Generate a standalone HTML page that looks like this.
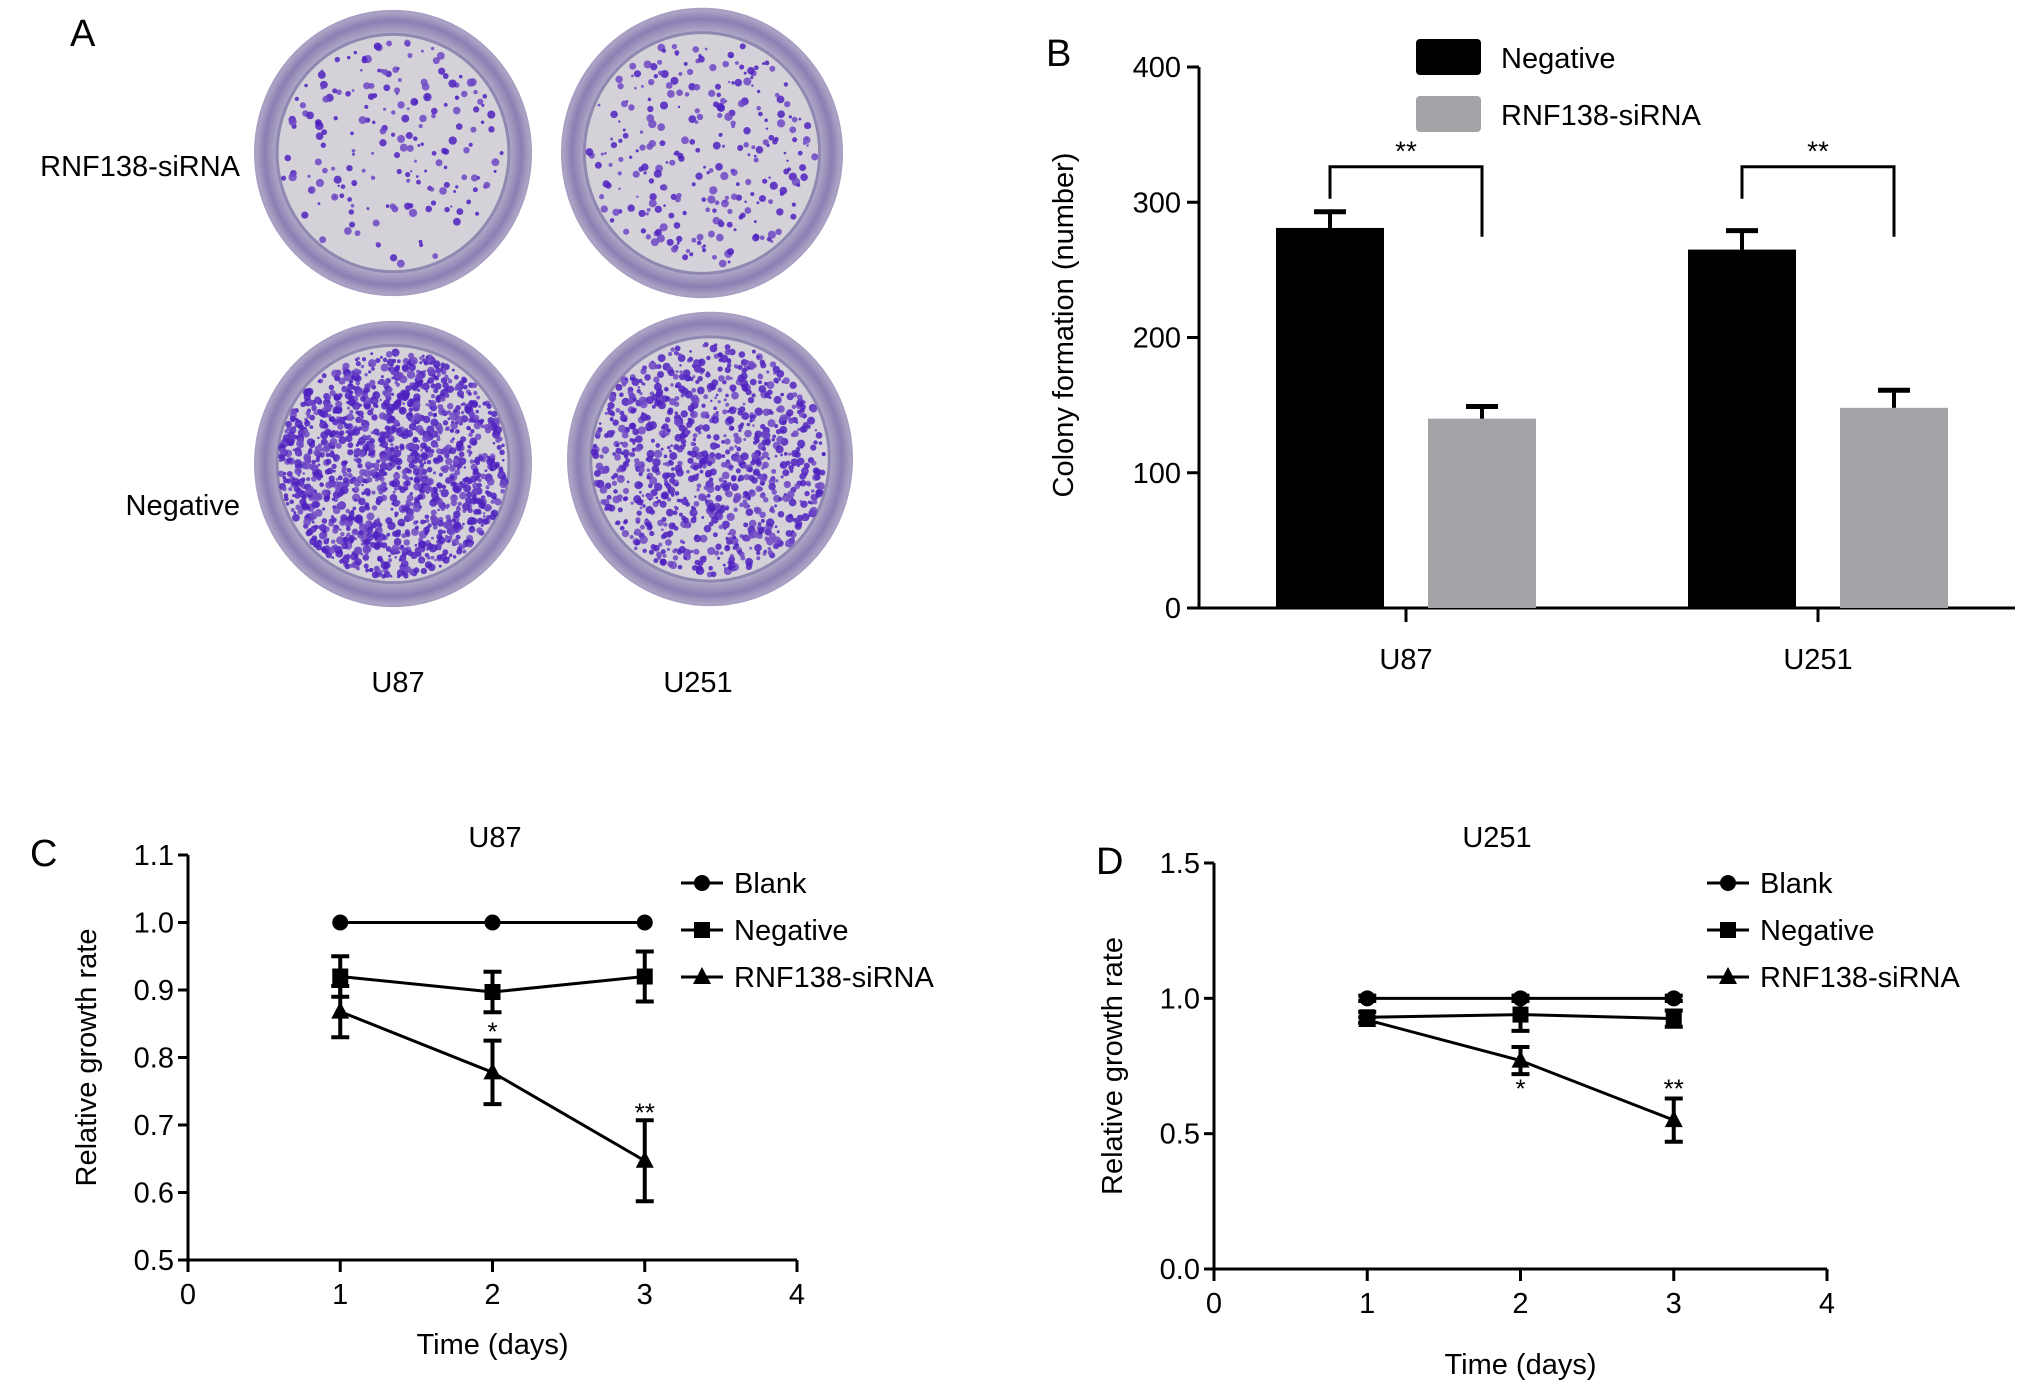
<!DOCTYPE html>
<html><head><meta charset="utf-8">
<style>
html,body{margin:0;padding:0;background:#fff;}
svg{display:block;font-family:"Liberation Sans",Arial,sans-serif;}
</style></head>
<body>
<svg id="fig" width="2032" height="1396" viewBox="0 0 2032 1396" xmlns="http://www.w3.org/2000/svg">
<defs>
<radialGradient id="rimG" cx="50%" cy="50%" r="50%">
<stop offset="80%" stop-color="#c4bed2"/><stop offset="93%" stop-color="#8a7fb2"/><stop offset="100%" stop-color="#b2a9c8"/>
</radialGradient>
</defs>
<g id="panelA">
<text x="70" y="46" font-size="38">A</text>
<text x="240" y="176" font-size="29" text-anchor="end">RNF138-siRNA</text>
<text x="240" y="515" font-size="29" text-anchor="end">Negative</text>
<text x="398" y="692" font-size="29" text-anchor="middle">U87</text>
<text x="698" y="692" font-size="29" text-anchor="middle">U251</text>
</g>
<g id="panelB"></g>
<g id="panelC"></g>
<g id="panelD"></g>
</svg>
<script>
// ---- Panel B data ----
const barGroups = ["U87", "U251"];
const barSeries = ["Negative", "RNF138-siRNA"];
const negValues = [281, 265];
const negErrors = [12, 14];
const siValues = [140, 148];
const siErrors = [9, 13];
const barTicks = [0, 100, 200, 300, 400];

// ---- Panel C data (U87) ----
const daysC = [1, 2, 3];
const blankC = [1.0, 1.0, 1.0];
const blankCErr = [0, 0, 0];
const negC = [0.92, 0.897, 0.92];
const negCErr = [0.03, 0.03, 0.037];
const siC = [0.868, 0.778, 0.647];
const siCErr = [0.038, 0.047, 0.06];
const yTicksC = [0.5, 0.6, 0.7, 0.8, 0.9, 1.0, 1.1];
const xTicks = [0, 1, 2, 3, 4];

// ---- Panel D data (U251) ----
const daysD = [1, 2, 3];
const blankD = [1.0, 1.0, 1.0];
const blankDErr = [0.01, 0.01, 0.01];
const negD = [0.93, 0.94, 0.925];
const negDErr = [0.02, 0.06, 0.03];
const siD = [0.92, 0.77, 0.55];
const siDErr = [0.01, 0.05, 0.08];
const yTicksD = [0.0, 0.5, 1.0, 1.5];

const NS = "http://www.w3.org/2000/svg";
function mk(parent, tag, attrs, text) {
  const e = document.createElementNS(NS, tag);
  for (const k in attrs) e.setAttribute(k, attrs[k]);
  if (text !== undefined) e.textContent = text;
  parent.appendChild(e);
  return e;
}

// ---- Panel A dishes (decorative photo approximation) ----
(function () {
  const A = document.getElementById("panelA");
  const dishes = [
    {cx: 393, cy: 153, r: 138, dens: 200, name: "dish-u87-sirna"},
    {cx: 702, cy: 153, r: 140, dens: 280, name: "dish-u251-sirna"},
    {cx: 393, cy: 464, r: 138, dens: 1500, name: "dish-u87-negative"},
    {cx: 710, cy: 459, r: 142, dens: 1000, name: "dish-u251-negative"}
  ];
  let seed = 7;
  function rnd() { seed = (seed * 16807) % 2147483647; return seed / 2147483647; }
  dishes.forEach(d => {
    const g = mk(A, "g", {});
    
    
    mk(g, "ellipse", {cx: d.cx, cy: d.cy, rx: d.r, ry: d.r * 1.03, fill: "url(#rimG)", stroke: "#a79ec2", "stroke-width": 2});
    mk(g, "ellipse", {cx: d.cx, cy: d.cy, rx: d.r * 0.84, ry: d.r * 0.86, fill: "#d4d1d8", stroke: "#9088b0", "stroke-width": 3});
    const ri = d.r * 0.82;
    for (let i = 0; i < d.dens; i++) {
      const a = rnd() * Math.PI * 2, rr = Math.sqrt(rnd()) * ri;
      const s = 1.2 + rnd() * 3;
      mk(g, "circle", {cx: d.cx + rr * Math.cos(a), cy: d.cy + rr * Math.sin(a), r: s, fill: rnd() < 0.6 ? "#4f22c0" : "#6f48c6", opacity: 0.85});
    }
  });
})();

// ---- Panel B ----
(function () {
  const B = document.getElementById("panelB");
  const x0 = 1199, y0 = 608, yTop = 67, xEnd = 2015;
  const y = v => y0 - (v / 400) * (y0 - yTop);
  const groupCenter = [1406, 1818];
  const bw = 108, off = 76;
  mk(B, "text", {x: 1046, y: 66, "font-size": 38}, "B");
  const ax = mk(B, "g", {});
  
  
  mk(ax, "line", {x1: x0, y1: yTop, x2: x0, y2: y0, stroke: "#000", "stroke-width": 3});
  barTicks.forEach(t => {
    mk(ax, "line", {x1: x0 - 12, y1: y(t), x2: x0, y2: y(t), stroke: "#000", "stroke-width": 3});
    const tl = mk(ax, "text", {x: x0 - 18, y: y(t) + 10, "font-size": 29, "text-anchor": "end"}, t);
    
    
  });
  const yt = mk(B, "text", {x: 0, y: 0, "font-size": 29, "text-anchor": "middle", transform: "translate(1073,325) rotate(-90)"}, "Colony formation (number)");
  
  
  const xa = mk(B, "g", {});
  
  
  mk(xa, "line", {x1: x0 - 12, y1: y0, x2: xEnd, y2: y0, stroke: "#000", "stroke-width": 3});
  const allTop = Math.max(...negValues.map((v, i) => v + negErrors[i]), ...siValues.map((v, i) => v + siErrors[i]));
  const by = y(allTop) - 45;
  barGroups.forEach((gname, i) => {
    mk(xa, "line", {x1: groupCenter[i], y1: y0, x2: groupCenter[i], y2: y0 + 14, stroke: "#000", "stroke-width": 3});
    const gl = mk(xa, "text", {x: groupCenter[i], y: y0 + 61, "font-size": 29, "text-anchor": "middle"}, gname);
    
    
    const series = [[negValues, negErrors, "#000", -off], [siValues, siErrors, "#a3a3a8", off]];
    series.forEach((s, j) => {
      const cx = groupCenter[i] + s[3];
      const v = s[0][i], e = s[1][i];
      const bar = mk(B, "rect", {x: cx - bw / 2, y: y(v), width: bw, height: y0 - y(v), fill: s[2]});
      
      
      const eb = mk(B, "g", {});
      
      
      mk(eb, "line", {x1: cx, y1: y(v), x2: cx, y2: y(v + e), stroke: "#000", "stroke-width": 4});
      mk(eb, "line", {x1: cx - 16, y1: y(v + e), x2: cx + 16, y2: y(v + e), stroke: "#000", "stroke-width": 5});
    });
    const lx = groupCenter[i] - off, rx = groupCenter[i] + off;
    const br = mk(B, "g", {});
    
    
    mk(br, "polyline", {points: `${lx},${by + 32} ${lx},${by} ${rx},${by} ${rx},${by + 70}`, fill: "none", stroke: "#000", "stroke-width": 3});
    mk(br, "text", {x: groupCenter[i], y: by - 6, "font-size": 28, "text-anchor": "middle"}, "**");
  });
  const lg = mk(B, "g", {});
  
  
  [["#000", barSeries[0], 39], ["#a3a3a8", barSeries[1], 96]].forEach(l => {
    const le = mk(lg, "g", {});
    
    
    mk(le, "rect", {x: 1416, y: l[2], width: 65, height: 36, rx: 4, fill: l[0]});
    mk(le, "text", {x: 1501, y: l[2] + 29, "font-size": 29}, l[1]);
  });
})();

// ---- Line charts ----
function lineChart(G, cfg) {
  const {x0, y0, yTop, xRight, ymin, ymax, yTicks, title, letter, days, series, stars, legendX} = cfg;
  const X = v => x0 + (v / 4) * (xRight - x0);
  const Y = v => y0 - (v - ymin) / (ymax - ymin) * (y0 - yTop);
  mk(G, "text", {x: letter[0], y: letter[1], "font-size": 38}, letter[2]);
  const tt = mk(G, "text", {x: cfg.titleX, y: 847, "font-size": 29, "text-anchor": "middle"}, title);
  
  
  const ya = mk(G, "g", {});
  
  
  mk(ya, "line", {x1: x0, y1: yTop, x2: x0, y2: y0, stroke: "#000", "stroke-width": 3});
  yTicks.forEach(t => {
    mk(ya, "line", {x1: x0 - 10, y1: Y(t), x2: x0, y2: Y(t), stroke: "#000", "stroke-width": 3});
    const tl = mk(ya, "text", {x: x0 - 14, y: Y(t) + 10, "font-size": 29, "text-anchor": "end"}, t.toFixed(1));
    
    
  });
  const yt = mk(G, "text", {x: 0, y: 0, "font-size": 29, "text-anchor": "middle", transform: `translate(${cfg.yTitleX},${(y0 + yTop) / 2}) rotate(-90)`}, "Relative growth rate");
  
  
  const xa = mk(G, "g", {});
  
  
  mk(xa, "line", {x1: x0, y1: y0, x2: xRight, y2: y0, stroke: "#000", "stroke-width": 3});
  xTicks.forEach(t => {
    mk(xa, "line", {x1: X(t), y1: y0, x2: X(t), y2: y0 + 12, stroke: "#000", "stroke-width": 3});
    const tl = mk(xa, "text", {x: X(t), y: y0 + 44, "font-size": 29, "text-anchor": "middle"}, t);
    
    
  });
  const xt = mk(G, "text", {x: (x0 + xRight) / 2, y: cfg.xTitleY, "font-size": 29, "text-anchor": "middle"}, "Time (days)");
  
  
  function marker(g, shape, cx, cy) {
    if (shape === "circle") mk(g, "circle", {cx, cy, r: 8, fill: "#000"});
    else if (shape === "square") mk(g, "rect", {x: cx - 8, y: cy - 8, width: 16, height: 16, fill: "#000"});
    else mk(g, "polygon", {points: `${cx},${cy - 10} ${cx - 9},${cy + 7} ${cx + 9},${cy + 7}`, fill: "#000"});
  }
  series.forEach(s => {
    const g = mk(G, "g", {});
    
    
    mk(g, "polyline", {points: days.map((d, i) => X(d) + "," + Y(s.v[i])).join(" "), fill: "none", stroke: "#000", "stroke-width": 3});
    days.forEach((d, i) => {
      const e = s.e[i];
      if (e > 0) {
        mk(g, "line", {x1: X(d), y1: Y(s.v[i] - e), x2: X(d), y2: Y(s.v[i] + e), stroke: "#000", "stroke-width": 4});
        mk(g, "line", {x1: X(d) - 9, y1: Y(s.v[i] - e), x2: X(d) + 9, y2: Y(s.v[i] - e), stroke: "#000", "stroke-width": 4});
        mk(g, "line", {x1: X(d) - 9, y1: Y(s.v[i] + e), x2: X(d) + 9, y2: Y(s.v[i] + e), stroke: "#000", "stroke-width": 4});
      }
      marker(g, s.shape, X(d), Y(s.v[i]));
    });
  });
  stars.forEach(st => {
    const t = mk(G, "text", {x: X(st.d), y: Y(st.y) + 10, "font-size": 26, "text-anchor": "middle"}, st.t);
    
    
  });
  const lg = mk(G, "g", {});
  
  
  series.forEach((s, i) => {
    const ly = 883 + i * 47;
    const le = mk(lg, "g", {});
    
    
    mk(le, "line", {x1: legendX, y1: ly, x2: legendX + 42, y2: ly, stroke: "#000", "stroke-width": 3});
    marker(le, s.shape, legendX + 21, ly);
    mk(le, "text", {x: legendX + 53, y: ly + 10, "font-size": 29}, s.name);
  });
}

lineChart(document.getElementById("panelC"), {
  x0: 188, y0: 1260, yTop: 855, xRight: 797, ymin: 0.5, ymax: 1.1, yTicks: yTicksC,
  title: "U87", titleX: 495, letter: [30, 866, "C"], days: daysC, yTitleX: 96, xTitleY: 1354, legendX: 681,
  series: [
    {key: "blank", name: "Blank", v: blankC, e: blankCErr, shape: "circle"},
    {key: "negative", name: "Negative", v: negC, e: negCErr, shape: "square"},
    {key: "rnf138-sirna", name: "RNF138-siRNA", v: siC, e: siCErr, shape: "triangle"}
  ],
  stars: [{d: 2, y: 0.84, t: "*"}, {d: 3, y: 0.72, t: "**"}]
});
lineChart(document.getElementById("panelD"), {
  x0: 1214, y0: 1269, yTop: 863, xRight: 1827, ymin: 0, ymax: 1.5, yTicks: yTicksD,
  title: "U251", titleX: 1497, letter: [1096, 874, "D"], days: daysD, yTitleX: 1122, xTitleY: 1374, legendX: 1707,
  series: [
    {key: "blank", name: "Blank", v: blankD, e: blankDErr, shape: "circle"},
    {key: "negative", name: "Negative", v: negD, e: negDErr, shape: "square"},
    {key: "rnf138-sirna", name: "RNF138-siRNA", v: siD, e: siDErr, shape: "triangle"}
  ],
  stars: [{d: 2, y: 0.67, t: "*"}, {d: 3, y: 0.67, t: "**"}]
});
</script>
</body></html>
